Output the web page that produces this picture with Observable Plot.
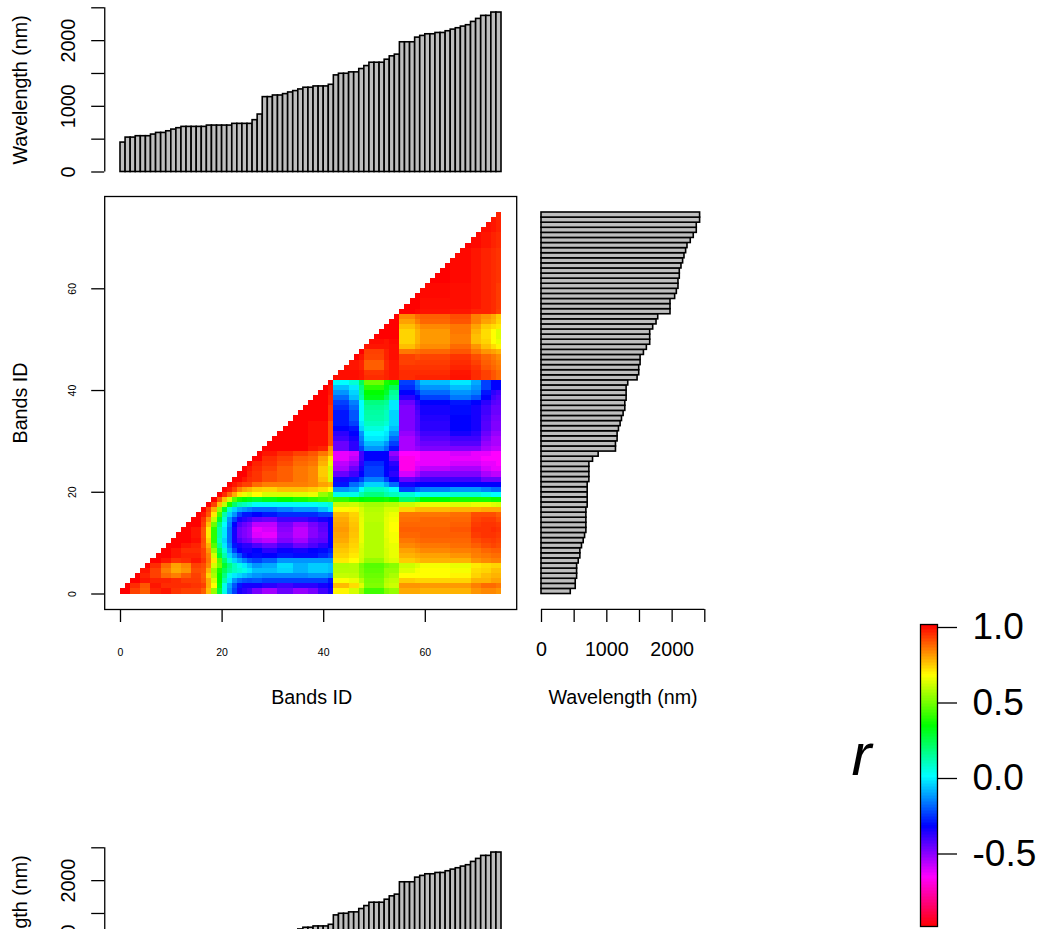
<!DOCTYPE html>
<html>
<head>
<meta charset="utf-8">
<script src="https://cdn.jsdelivr.net/npm/d3@7"></script>
<script src="https://cdn.jsdelivr.net/npm/@observablehq/plot@0.6"></script>
<style>
html,body{margin:0;padding:0;background:#fff;}
#page{position:relative;width:1044px;height:929px;overflow:hidden;background:#fff;}
#page>svg{position:absolute;}
</style>
</head>
<body>
<div id="page"></div>
<script>
// Band wavelengths (nm), band 0 to band 74
const wavelengths = [448,524,524,545,545,545,570,595,595,620,646,667,687,687,687,687,687,707,707,707,707,707,733,733,733,733,789,875,1140,1140,1165,1165,1186,1211,1232,1257,1283,1283,1303,1303,1303,1328,1471,1496,1496,1517,1517,1568,1613,1664,1664,1664,1710,1761,1787,1975,1975,1975,2046,2072,2097,2097,2117,2117,2143,2168,2189,2214,2235,2285,2331,2377,2377,2428,2428];
const waveTicks = [0,500,1000,1500,2000,2500];
const waveLabels = [0,1000,2000];
const bandTicks = [0,20,40,60];
const legendTicks = [1,0.5,0,-0.5];

// Correlation matrix, as positions on the colour bar in
// hue degrees (0 = r 1.0, 180 = r 0.0, 360 = r -1.0). Neighbouring bands that
// read alike share one column group.
const leftStarts = [0,2,4,6,8,10,12,14,16,17,18,19,20,21,22,23,24,25,26,28,31,34,37,39,41];
const rightStarts = [42,45,47,48,52,53,55,58,59,65,69,71,73,74];

// rows 0-41, columns below 42, right aligned on leftStarts
const leftHue = [
[0,15,22,8,5,12,15,15,22,45,85,135,175,205,225,245,250,255,268,278,265,275,268,255,245],
[0,10,20,5,10,10,10,12,15,40,60,125,175,200,220,235,245,245,245,250,255,250,250,245,240],
[0,5,8,8,10,14,14,20,40,70,120,160,185,205,215,220,222,220,225,225,225,225,225,235],
[0,8,15,25,30,22,15,22,50,80,120,150,175,185,190,195,200,205,208,208,208,205,205,210],
[5,15,30,40,35,18,20,42,85,115,140,155,165,170,175,185,195,195,190,198,192,192,195],
[0,10,25,38,32,15,18,32,70,95,130,150,165,175,185,195,205,200,188,198,192,192,195],
[0,5,12,10,5,12,28,55,100,145,170,190,200,210,220,225,218,205,205,205,205,205],
[0,0,5,8,8,15,30,70,130,160,190,205,220,235,240,238,240,235,238,238,232,225],
[0,5,10,10,15,35,85,140,170,200,225,240,245,245,240,250,242,245,240,238,232],
[0,0,5,8,20,42,100,155,185,210,235,245,250,250,258,265,255,265,258,250,240],
[0,0,3,18,50,110,165,190,215,245,258,265,268,280,285,270,278,265,262,240],
[0,0,5,20,55,110,160,185,215,245,265,270,275,292,295,275,285,272,265,240],
[0,5,20,55,110,160,185,215,245,265,270,275,295,290,272,285,272,262,240],
[0,0,15,45,95,150,180,210,240,258,265,270,285,285,268,278,268,260,240],
[0,12,35,75,130,170,205,225,245,250,255,262,265,255,255,250,245,240],
[0,5,20,55,105,160,190,205,225,235,235,240,235,230,230,230,225,225],
[0,15,40,85,130,170,190,200,205,210,215,215,210,205,205,195,185],
[0,15,45,75,115,145,160,165,170,178,178,178,178,178,175,170],
[0,20,45,70,100,115,120,125,130,125,120,115,110,105,100],
[0,10,25,40,55,65,70,60,70,70,68,65,85,95],
[0,5,15,30,38,42,48,50,45,45,48,52,60],
[0,5,10,15,15,25,30,30,30,32,38,42],
[0,0,5,10,12,18,22,28,32,45,70],
[0,0,8,12,18,22,28,32,48,70],
[0,5,10,15,22,28,32,48,72],
[0,8,12,18,25,28,42,65],
[0,10,15,22,25,38,55],
[0,5,10,15,20,28,40],
[0,0,0,5,8,35],
[0,0,0,3,3,18],
[0,0,0,3,3,18],
[0,0,3,3,18],
[0,0,3,3,18],
[0,0,3,3,18],
[0,0,0,12],
[0,0,0,12],
[0,0,0,12],
[0,0,8],
[0,0,8],
[0,5],
[0,5],
[0]
];
// rows 0-54, columns 42-54
const blockHue = [
[58,70,85,105,90,85],[44,52,68,90,75,72],[61,65,78,92,78,75],[74,75,88,95,85,80],[78,78,90,98,85,85],
[79,78,92,100,92,88],[55,60,72,85,72,68],[50,55,70,78,70,65],[47,52,70,78,70,65],[44,50,68,78,68,65],
[40,48,65,78,68,62],[38,46,65,78,66,62],[36,45,65,78,66,60],[38,46,65,78,66,60],[40,48,66,76,66,62],
[44,50,68,76,68,64],[59,58,70,78,70,70],[74,72,78,82,78,78],[108,115,120,118,115,120],[175,175,160,150,160,165],
[205,200,180,165,170,180],[235,215,205,190,200,215],[245,235,225,210,225,240],[265,255,240,225,240,250],[280,265,245,225,240,245],
[285,275,250,230,240,250],[295,285,255,240,240,265],[295,290,255,240,240,275],[265,250,225,205,215,235],[265,250,215,195,205,225],
[255,245,210,185,190,215],[250,240,205,180,185,205],[240,235,190,172,180,195],[235,225,185,165,170,190],[235,220,180,160,165,190],
[235,220,180,158,165,190],[230,215,180,155,160,185],[225,210,180,150,155,185],[215,195,160,125,140,160],[205,190,155,120,130,155],
[195,185,150,110,125,140],[180,170,140,95,115,120],
[3,3,5,10,8,5],[3,3,5,12,8,5],[3,5,8,22,10,5],[0,5,8,22,10,5],[0,0,5,16,8,3],[0,0,0,15,8,3],[0,0,0,5,5,3],[0,0,0,3,5,2],
[0,0,0,0,0,0],[0,0,0,0,0,0],[0,0,0,0,0,0],[0,0,0,0,0,0],[0,0,0,0,0,0]
];
// rows 0-74, columns 55-74
const rightHue = [
[40,40,42,42,35,32,32,35],[35,35,36,36,30,25,25,28],[48,50,50,50,42,42,38,38],[60,60,60,58,50,45,42,42],[68,62,60,62,52,50,45,45],
[72,68,62,65,55,52,50,50],[48,45,42,42,35,32,30,30],[42,40,38,35,30,28,26,26],[38,35,32,30,28,24,22,22],[32,30,28,26,22,18,16,18],
[28,26,24,24,18,15,14,16],[24,24,22,22,14,12,12,14],[22,22,22,20,12,12,10,12],[24,24,24,22,14,12,12,14],[26,26,24,24,16,14,14,18],
[28,28,28,26,18,18,18,22],[50,45,44,42,42,40,40,40],[72,68,65,68,65,65,68,70],[145,135,120,115,115,115,118,118],[170,180,175,170,170,175,180,180],
[225,215,210,205,205,210,215,215],[245,240,240,240,240,240,240,240],[265,260,255,255,255,265,265,265],[290,280,270,270,270,280,285,285],[305,290,285,280,280,290,295,295],
[305,295,295,290,290,295,295,300],[305,300,295,295,295,300,300,300],[300,300,295,290,295,295,300,300],[280,275,270,270,270,280,285,285],[280,270,265,260,260,275,280,280],
[280,270,260,255,255,270,280,280],[275,265,255,245,250,265,275,275],[270,260,250,240,245,260,270,270],[270,260,250,240,245,260,270,270],[270,260,248,240,245,258,268,268],
[270,258,245,238,245,255,265,265],[270,255,245,238,245,255,265,265],[265,250,240,235,240,250,260,262],[250,240,225,212,220,240,255,260],[240,230,215,205,210,235,250,255],
[230,215,205,195,205,225,240,240],[225,210,195,185,200,225,240,240],
[10,8,8,4,10,15,20,25],[10,10,10,5,10,15,20,25],[12,12,12,8,12,20,24,28],[15,14,14,10,15,22,26,30],[15,18,16,12,18,24,28,33],
[28,26,24,20,28,35,38,42],[45,38,33,25,35,45,52,58],[50,42,36,30,45,50,60,65],[50,42,36,30,45,52,60,68],[50,42,36,28,42,52,60,68],
[45,38,32,28,38,48,52,55],[38,30,24,20,30,38,42,50],[32,25,22,18,30,35,40,48],
[0,2,4,5,8,8,10,15],[0,0,3,3,5,8,10,14],[0,0,3,3,5,8,10,14],[0,0,2,3,5,8,10,14],[0,0,2,3,5,8,10,14],
[0,0,2,3,5,8,10,14],[0,0,0,2,5,8,10,12],[0,0,0,2,5,8,10,12],[0,0,0,2,5,8,10,12],[0,0,0,2,5,8,10,12],
[0,0,0,2,5,8,10,12],[0,0,0,2,5,8,10,12],[0,0,0,2,5,8,10,12],[0,0,0,0,2,5,8,10],[0,0,0,0,2,5,8,10],
[0,0,0,0,2,5,8,10],[0,0,0,0,0,3,5,8],[0,0,0,0,0,3,5,8],[0,0,0,0,0,3,5,8],[0,0,0,0,0,3,5,8]
];

// ---- build the table the cell mark needs
const cells = [];
function addRow(row, hues, starts, end) {
  const off = starts.length - hues.length;
  hues.forEach((h, k) => {
    const g = k + off, from = starts[g], to = g + 1 < starts.length ? starts[g + 1] : end;
    for (let col = from; col < to; col++) if (col >= row) cells.push({col, row, r: 1 - h / 180});
  });
}
leftHue.forEach((h, row) => addRow(row, h, leftStarts, 42));
blockHue.forEach((h, row) => addRow(row, h, rightStarts.slice(0, 6), 55));
rightHue.forEach((h, row) => addRow(row, h, rightStarts.slice(6), 75));

const legendLevels = d3.range(-1, 1.0001, 0.01);
const colorScale = {type: "linear", domain: [-1, 1], interpolate: t => d3.hsl(360 * (1 - t), 1, 0.5).toString()};
const FONT = "Liberation Sans";
const LW = 1.3, BAR = 1.6, BIG = 19.7, page = document.getElementById("page");
const base = {style: {fontFamily: FONT, background: "transparent", color: "#000", overflow: "visible"}};

function place(svg, left, top) {
  svg.style.left = left + "px";
  svg.style.top = top + "px";
  page.appendChild(svg);
}

function topBars(top) {
  const svg = Plot.plot({
    ...base, width: 530, height: 190, marginLeft: 104.2, marginRight: 0, marginTop: 7.3, marginBottom: 18.5,
    x: {domain: [0, 75], range: [120, 501], axis: null},
    y: {domain: [0, 2500], ticks: waveTicks, label: null},
    marks: [
      Plot.rectY(wavelengths, {x1: (d, i) => i, x2: (d, i) => i + 1, y: d => d, fill: "#bebebe", stroke: "#000", strokeWidth: BAR}),
      Plot.ruleX([-3.1], {y1: 0, y2: 2500, stroke: "#000", strokeWidth: LW}),
      Plot.axisY({ticks: waveTicks, tickSize: 13, tickPadding: 17, tickRotate: -90, fontSize: BIG, strokeWidth: LW, label: null,
        tickFormat: d => waveLabels.includes(d) ? String(d) : ""}),
      Plot.text(["Wavelength (nm)"], {frameAnchor: "left", textAnchor: "middle", dx: -84, rotate: -90, fontSize: BIG})
    ]
  });
  place(svg, 0, top);
}

function heatmap() {
  const svg = Plot.plot({
    ...base, width: 530, height: 530, marginLeft: 104.2, marginRight: 13.8, marginTop: 6, marginBottom: 111,
    x: {domain: [0, 75], range: [120, 501], label: null},
    y: {domain: [0, 75], range: [403.5, 22], label: null},
    color: colorScale,
    marks: [
      Plot.rect(cells, {x1: "col", x2: d => d.col + 1, y1: "row", y2: d => d.row + 1, fill: "r", shapeRendering: "crispEdges"}),
      Plot.frame({stroke: "#000", strokeWidth: LW}),
      Plot.axisX({ticks: bandTicks, tickSize: 13, tickPadding: 26, fontSize: 10.5, strokeWidth: LW, label: null}),
      Plot.axisY({ticks: bandTicks, tickSize: 13, tickPadding: 16, tickRotate: -90, fontSize: 10.5, strokeWidth: LW, label: null}),
      Plot.text(["Bands ID"], {frameAnchor: "bottom", dx: 1, dy: 94, fontSize: BIG}),
      Plot.text(["Bands ID"], {frameAnchor: "left", textAnchor: "middle", dx: -84, rotate: -90, fontSize: BIG})
    ]
  });
  place(svg, 0, 190);
}

function sideBars() {
  const svg = Plot.plot({
    ...base, width: 200, height: 530, marginLeft: 11, marginRight: 0, marginTop: 6, marginBottom: 111,
    x: {domain: [0, 2500], range: [11, 174.3], label: null},
    y: {domain: [0, 75], range: [403.5, 22], axis: null},
    marks: [
      Plot.rectX(wavelengths, {y1: (d, i) => i, y2: (d, i) => i + 1, x: d => d, fill: "#bebebe", stroke: "#000", strokeWidth: BAR}),
      Plot.ruleY([-3.02], {x1: 0, x2: 2500, stroke: "#000", strokeWidth: LW}),
      Plot.axisX({ticks: waveTicks, tickSize: 13, tickPadding: 19, fontSize: BIG, strokeWidth: LW, label: null,
        tickFormat: d => waveLabels.includes(d) ? String(d) : ""}),
      Plot.text(["Wavelength (nm)"], {frameAnchor: "bottom", dx: -13, dy: 94, fontSize: BIG})
    ]
  });
  place(svg, 530, 190);
}

function legend() {
  const svg = Plot.plot({
    ...base, width: 204, height: 329, marginLeft: 80, marginRight: 107, marginTop: 24, marginBottom: 3,
    x: {domain: [0, 1], axis: null},
    y: {domain: [-1, 1], label: null},
    color: colorScale,
    marks: [
      Plot.rect(legendLevels, {x1: 0, x2: 1, y1: d => d - 0.01, y2: d => d, fill: d => d, shapeRendering: "crispEdges", clip: true}),
      Plot.frame({stroke: "#000", strokeWidth: LW}),
      Plot.axisY({anchor: "right", ticks: legendTicks, tickSize: 19, tickPadding: 16, fontSize: 37, strokeWidth: LW, dy: 3, label: null,
        tickFormat: d => d.toFixed(1)}),
      Plot.text(["r"], {frameAnchor: "left", dx: -69, dy: -20, fontSize: 60, fontStyle: "italic"})
    ]
  });
  place(svg, 840, 600);
}

topBars(0);
heatmap();
sideBars();
legend();
topBars(840);
</script>
</body>
</html>
